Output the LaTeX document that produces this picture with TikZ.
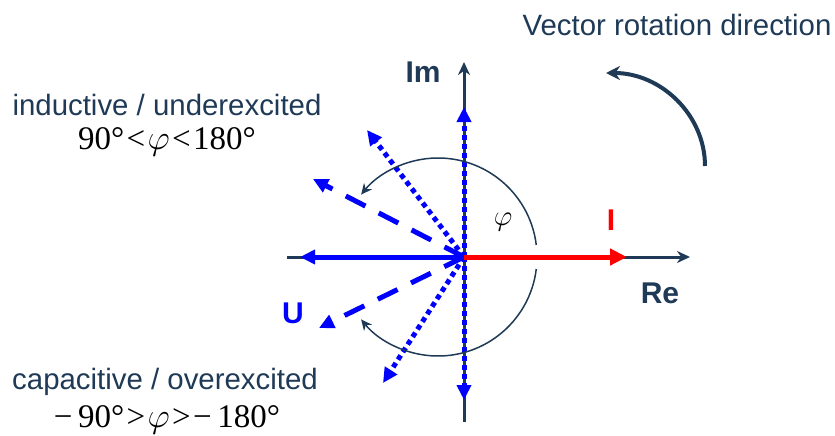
\documentclass[tikz,border=0pt]{standalone}
\usepackage{fontspec}
\setmainfont{Liberation Sans}
\newfontfamily\serifnum{Liberation Serif}
\usetikzlibrary{arrows.meta}
\definecolor{navy}{HTML}{1F3A56}
\definecolor{ublue}{HTML}{0000FF}
\definecolor{ired}{HTML}{FF0000}

\tikzset{
    axisline/.style={navy, line width=1.5pt, -{Stealth[length=6.5pt,width=6pt]}},
    dotvec/.style={ublue, line width=2.5pt, dash pattern=on 2.5pt off 2pt, -{Triangle[length=7.5pt,width=7pt]}},
    dashvec/.style={ublue, line width=2.5pt, dash pattern=on 11pt off 7.5pt, -{Triangle[length=7.5pt,width=7pt]}},
    phasearc/.style={navy, line width=0.75pt, -{Stealth[length=5.5pt,width=5pt]}},
    labeltxt/.style={navy, font=\fontsize{14.7}{17}\selectfont},
    formula/.style={black, font=\serifnum\fontsize{16.5}{19}\selectfont}
}
\newcommand{\rsp}{\hspace{1.2pt}}

\begin{document}
\begin{tikzpicture}[x=0.5pt, y=0.5pt]

    \def\rphi{99}     % radius of the phi arcs

    \useasboundingbox (0,0) rectangle (835,435);

    % ==============================================
    % Axes
    % ==============================================
    \coordinate (O) at (464,178);
    \coordinate (ReL) at (287,178);
    \coordinate (ReR) at (690,178);
    \coordinate (ImB) at (464,13);
    \coordinate (ImT) at (464,373);
    \draw[axisline] (ReL) -- (ReR);
    \draw[axisline] (ImB) -- (ImT);

    \node[navy, font=\bfseries\fontsize{15}{18}\selectfont] (Im) at (423,363) {Im};
    \node[navy, font=\bfseries\fontsize{15}{18}\selectfont] (Re) at (660,142) {Re};

    % ==============================================
    % Voltage vectors U (dotted / dashed / solid)
    % ==============================================
    \foreach \n/\x/\y/\st in {Up/464/328/dotvec, Dn/464/35/dotvec,
                              DU/367/305/dotvec, DD/383/52/dotvec,
                              LU/313/256/dashvec, LD/319/107/dashvec} {
        \coordinate (U\n) at (\x,\y);
        \draw[\st] (O) -- (U\n);
    }
    \coordinate (Utip) at (300,178);
    \draw[ublue, line width=2.5pt, -{Triangle[length=7.5pt,width=7pt]}] (O) -- (Utip);

    % current vector I
    \coordinate (Itip) at (627,178);
    \draw[ired, line width=2.5pt, -{Triangle[length=8.5pt,width=8pt]}] (O) -- (Itip);

    \node[ublue, font=\bfseries\fontsize{15}{18}\selectfont] (U) at (293,122) {U};
    \node[ired, font=\bfseries\fontsize{15}{18}\selectfont] (I) at (611,215) {I};

    % ==============================================
    % Phase angle arcs
    % ==============================================
    \coordinate (C) at (438,178);
    \draw[phasearc] ([shift={(7:\rphi)}]C) arc[start angle=7, end angle=141, radius=\rphi];
    \draw[phasearc] ([shift={(-7:\rphi)}]C) arc[start angle=-7, end angle=-141, radius=\rphi];
    \node[font=\fontsize{15}{17}\selectfont] (phi) at (503,213) {$\varphi$};

    % rotation direction
    \coordinate (RotS) at (705,269);
    \draw[navy, line width=2pt, -{Stealth[length=7pt,width=7pt]}] (RotS) arc[start angle=0, end angle=90, x radius=99, y radius=93];
    \node[labeltxt] (rot) at (677,410) {Vector rotation direction};

    % ==============================================
    % Operating ranges
    % ==============================================
    \node[labeltxt] (ind) at (167,330) {inductive / underexcited};
    \node[formula] (indr) at (167,293) {90°\rsp<\rsp$\varphi$\rsp<\rsp180°};
    \node[labeltxt] (cap) at (165,53) {capacitive / overexcited};
    \node[formula] (capr) at (167,15) {−\,90°\rsp>\rsp$\varphi$\rsp>\rsp−\,180°};

\end{tikzpicture}
\end{document}
